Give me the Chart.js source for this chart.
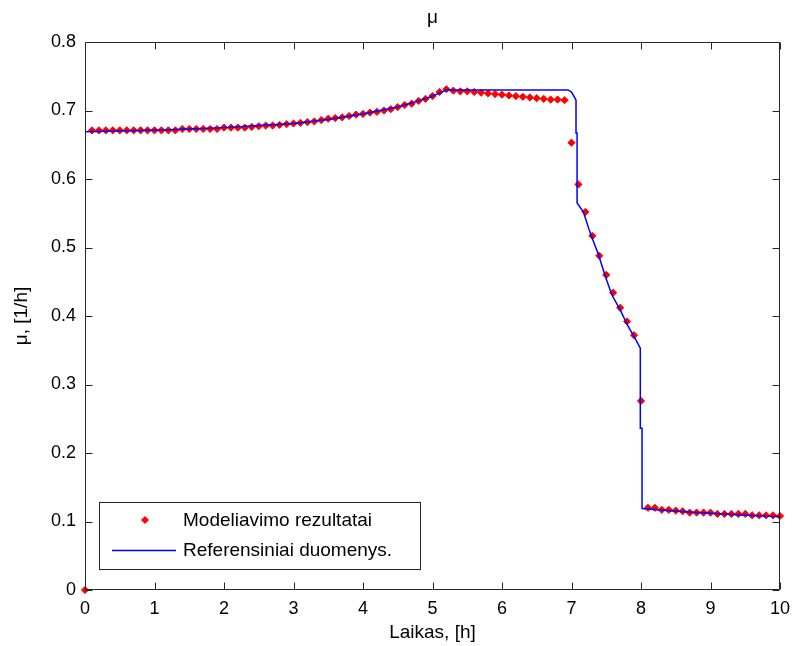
<!DOCTYPE html>
<html><head><meta charset="utf-8">
<script src="https://cdn.jsdelivr.net/npm/chart.js@4/dist/chart.umd.min.js"></script>
<style>html,body{margin:0;padding:0;background:#fff}canvas{display:block}</style>
</head><body>
<canvas id="c" width="792" height="646"></canvas>
<script>
const chartTitle = 'μ';
const xTitle = 'Laikas, [h]';
const yTitle = 'μ, [1/h]';
const seriesNames = ['Modeliavimo rezultatai', 'Referensiniai duomenys.'];
const xTickLabels = ['0','1','2','3','4','5','6','7','8','9','10'];
const yTickLabels = ['0','0.1','0.2','0.3','0.4','0.5','0.6','0.7','0.8'];

// Simulation results (markers)
const simTime = [0,0.1,0.2,0.3,0.4,0.5,0.6,0.7,0.8,0.9,1.0,1.1,1.2,1.3,1.4,1.5,1.6,1.7,1.8,1.9,
  2.0,2.1,2.2,2.3,2.4,2.5,2.6,2.7,2.8,2.9,3.0,3.1,3.2,3.3,3.4,3.5,3.6,3.7,3.8,3.9,
  4.0,4.1,4.2,4.3,4.4,4.5,4.6,4.7,4.8,4.9,5.0,5.1,5.2,5.3,5.4,5.5,5.6,5.7,5.8,5.9,
  6.0,6.1,6.2,6.3,6.4,6.5,6.6,6.7,6.8,6.9,7.0,7.1,7.2,7.3,7.4,7.5,7.6,7.7,7.8,7.9,
  8.0,8.1,8.2,8.3,8.4,8.5,8.6,8.7,8.8,8.9,9.0,9.1,9.2,9.3,9.4,9.5,9.6,9.7,9.8,9.9,10.0];
const simValue = [0,0.671,0.671,0.671,0.671,0.671,0.671,0.671,0.671,0.671,0.671,0.671,0.671,0.671,0.673,0.673,0.673,0.673,0.673,0.673,
  0.675,0.675,0.675,0.675,0.676,0.677,0.678,0.678,0.679,0.680,0.681,0.682,0.683,0.684,0.686,0.688,0.689,0.690,0.692,0.694,
  0.695,0.697,0.698,0.700,0.702,0.705,0.708,0.710,0.714,0.717,0.721,0.727,0.731,0.729,0.728,0.728,0.727,0.726,0.725,0.724,
  0.723,0.722,0.721,0.720,0.719,0.718,0.717,0.716,0.716,0.715,0.653,0.592,0.552,0.517,0.488,0.460,0.434,0.412,0.392,0.372,
  0.276,0.120,0.120,0.117,0.117,0.116,0.115,0.113,0.113,0.113,0.113,0.111,0.111,0.111,0.111,0.111,0.109,0.109,0.109,0.109,0.108];

// Reference data (line)
const refTime  = [0,0.5,1.0,1.5,2.0,2.5,3.0,3.5,4.0,4.5,4.8,5.0,5.2,6.95,7.0,7.04,7.065,7.065,7.08,7.08,7.17,7.27,7.39,7.48,7.58,7.70,7.82,7.94,7.99,7.99,8.015,8.015,8.5,9.0,9.5,10.0];
const refValue = [0.669,0.670,0.671,0.673,0.675,0.678,0.681,0.687,0.695,0.705,0.714,0.721,0.730,0.730,0.727,0.720,0.715,0.667,0.667,0.565,0.552,0.521,0.489,0.460,0.431,0.409,0.384,0.3625,0.353,0.236,0.236,0.119,0.115,0.112,0.109,0.107];

const FONT = "'Liberation Sans', Arial, sans-serif";
const AXIS_COLOR = '#262626';

const framePlugin = {
  id: 'frame',
  afterDatasetsDraw(chart) {
    const {ctx, chartArea: a, scales: {x, y}} = chart;
    ctx.save();
    ctx.strokeStyle = AXIS_COLOR;
    ctx.lineWidth = 1;
    const L = Math.round(a.left) + 0.5, R = Math.round(a.right) - 0.5;
    const T = Math.round(a.top) + 0.5, B = Math.round(a.bottom) - 0.5;
    ctx.beginPath();
    ctx.rect(L, T, R - L, B - T);
    const tl = 7;
    xTickLabels.forEach(s => {
      const px = Math.round(x.getPixelForValue(parseFloat(s))) + 0.5;
      ctx.moveTo(px, B); ctx.lineTo(px, B - tl);
      ctx.moveTo(px, T); ctx.lineTo(px, T + tl);
    });
    yTickLabels.forEach(s => {
      const py = Math.round(y.getPixelForValue(parseFloat(s))) + 0.5;
      ctx.moveTo(L, py); ctx.lineTo(L + tl, py);
      ctx.moveTo(R, py); ctx.lineTo(R - tl, py);
    });
    ctx.stroke();
    // title centred over the plot area
    ctx.fillStyle = '#000';
    ctx.font = '19px ' + FONT;
    ctx.textAlign = 'center';
    ctx.textBaseline = 'middle';
    ctx.fillText(chartTitle, (a.left + a.right) / 2, 18);
    ctx.restore();
  }
};

const legendPlugin = {
  id: 'boxLegend',
  afterDraw(chart) {
    const {ctx, chartArea: a} = chart;
    const bx = a.left + 14, by = a.bottom - 88, bw = 321, bh = 67;
    const dsM = chart.data.datasets[1], dsL = chart.data.datasets[0];
    ctx.save();
    ctx.fillStyle = '#fff';
    ctx.fillRect(bx, by, bw, bh);
    ctx.strokeStyle = AXIS_COLOR;
    ctx.lineWidth = 1;
    ctx.strokeRect(Math.round(bx) + 0.5, Math.round(by) + 0.5, bw, bh);
    ctx.fillStyle = dsM.backgroundColor; ctx.strokeStyle = dsM.borderColor; ctx.lineWidth = 1;
    Chart.helpers.drawPoint(ctx, {pointStyle: 'rectRot', radius: 3.5, borderWidth: 1}, bx + 46, by + 18);
    ctx.strokeStyle = dsL.borderColor; ctx.lineWidth = 1.5;
    ctx.beginPath(); ctx.moveTo(bx + 13, by + 48.5); ctx.lineTo(bx + 77, by + 48.5); ctx.stroke();
    ctx.fillStyle = '#000';
    ctx.font = '19px ' + FONT;
    ctx.textBaseline = 'middle';
    ctx.textAlign = 'left';
    ctx.fillText(seriesNames[0], bx + 84, by + 19);
    ctx.fillText(seriesNames[1], bx + 84, by + 49);
    ctx.restore();
  }
};

new Chart(document.getElementById('c'), {
  type: 'scatter',
  data: {
    datasets: [
      {
        label: seriesNames[1],
        data: refTime.map((t, i) => ({x: t, y: refValue[i]})),
        showLine: true,
        borderColor: '#0000ff',
        backgroundColor: '#0000ff',
        borderWidth: 1.5,
        pointRadius: 0,
        tension: 0,
        order: 1
      },
      {
        label: seriesNames[0],
        data: simTime.map((t, i) => ({x: t, y: simValue[i]})),
        showLine: false,
        borderColor: '#ff0000',
        backgroundColor: '#ff0000',
        pointStyle: 'rectRot',
        pointRadius: 3.6,
        pointBorderWidth: 1,
        clip: false,
        order: 2
      }
    ]
  },
  options: {
    responsive: false,
    animation: false,
    devicePixelRatio: 1,
    layout: {padding: {left: 0, right: 12, top: 42, bottom: 0}},
    plugins: {
      legend: {display: false},
      tooltip: {enabled: false},
      title: {display: false}
    },
    scales: {
      x: {
        type: 'linear', min: 0, max: 10,
        afterFit: s => { s.height = 56; s.paddingLeft = 0; s.paddingRight = 0; },
        afterBuildTicks: s => { s.ticks = xTickLabels.map(v => ({value: parseFloat(v)})); },
        grid: {display: false, drawTicks: false},
        border: {display: false},
        ticks: {color: '#000', font: {family: FONT, size: 18}, padding: 8, maxRotation: 0,
          callback: (v, i) => xTickLabels[i]},
        title: {display: true, text: xTitle, color: '#000', font: {family: FONT, size: 19}, padding: {top: 0, bottom: 2}}
      },
      y: {
        type: 'linear', min: 0, max: 0.8,
        afterFit: s => { s.width = 85; s.paddingTop = 0; s.paddingBottom = 0; },
        afterBuildTicks: s => { s.ticks = yTickLabels.map(v => ({value: parseFloat(v)})); },
        grid: {display: false, drawTicks: false},
        border: {display: false},
        ticks: {color: '#000', font: {family: FONT, size: 18}, padding: 9,
          callback: (v, i) => yTickLabels[i]},
        title: {display: true, text: yTitle, color: '#000', font: {family: FONT, size: 19}, padding: {top: 10, bottom: 0}}
      }
    }
  },
  plugins: [framePlugin, legendPlugin]
});
</script>
</body></html>
